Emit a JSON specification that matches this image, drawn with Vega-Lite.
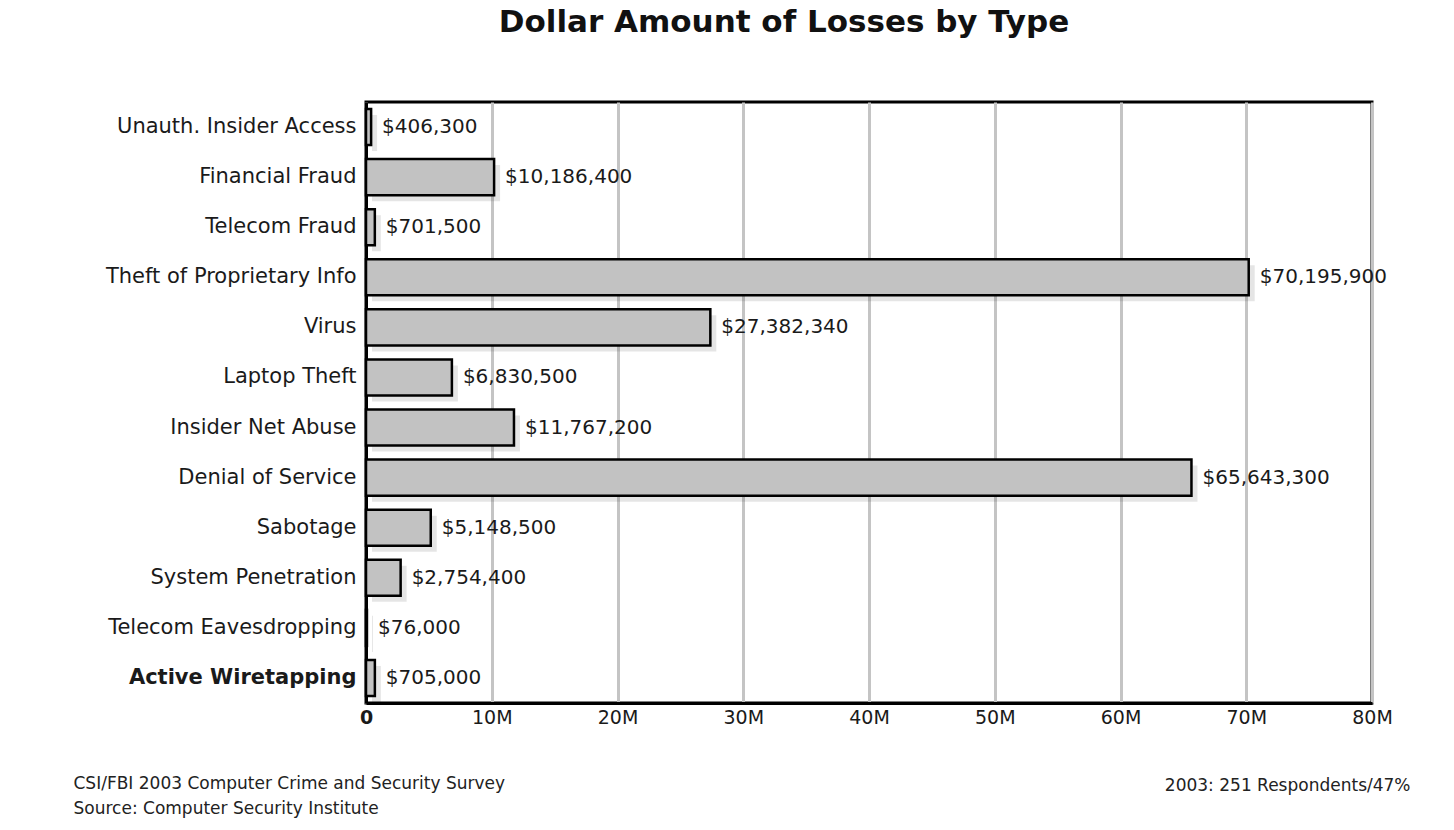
{
  "$schema": "https://vega.github.io/schema/vega-lite/v6.json",
  "autosize": {"type": "none"},
  "width": 1006,
  "height": 601,
  "padding": {"left": 366, "top": 102, "right": 82, "bottom": 127},
  "background": "white",
  "title": {
    "text": "Dollar Amount of Losses by Type",
    "font": "DejaVu Sans",
    "fontSize": 31,
    "fontWeight": "bold",
    "color": "#111111",
    "anchor": "middle",
    "dx": -85,
    "offset": 63
  },
  "data": {
    "values": [
      {"type": "Unauth. Insider Access", "loss": 406300},
      {"type": "Financial Fraud", "loss": 10186400},
      {"type": "Telecom Fraud", "loss": 701500},
      {"type": "Theft of Proprietary Info", "loss": 70195900},
      {"type": "Virus", "loss": 27382340},
      {"type": "Laptop Theft", "loss": 6830500},
      {"type": "Insider Net Abuse", "loss": 11767200},
      {"type": "Denial of Service", "loss": 65643300},
      {"type": "Sabotage", "loss": 5148500},
      {"type": "System Penetration", "loss": 2754400},
      {"type": "Telecom Eavesdropping", "loss": 76000},
      {"type": "Active Wiretapping", "loss": 705000}
    ]
  },
  "encoding": {
    "y": {
      "field": "type",
      "type": "nominal",
      "sort": null,
      "scale": {"paddingInner": 0.28, "paddingOuter": 0.14},
      "axis": {
        "title": "2003: 251 Respondents/47%",
        "titleAngle": 0,
        "titleX": 1044,
        "titleY": 683,
        "titleAlign": "right",
        "titleBaseline": "middle",
        "titleFont": "DejaVu Sans",
        "titleFontSize": 17,
        "titleFontWeight": "normal",
        "titleColor": "#222222",
        "labelFont": "DejaVu Sans",
        "labelFontSize": 21,
        "labelColor": "#1a1a1a",
        "labelPadding": 10,
        "labelLimit": 0,
        "labelFontWeight": {"condition": {"test": "datum.value === 'Active Wiretapping'", "value": "bold"}, "value": "normal"},
        "ticks": false,
        "domainColor": "black",
        "domainWidth": 3,
        "grid": false
      }
    },
    "x": {
      "field": "loss",
      "type": "quantitative",
      "scale": {"domain": [0, 80000000], "nice": false},
      "axis": {
        "values": [0, 10000000, 20000000, 30000000, 40000000, 50000000, 60000000, 70000000, 80000000],
        "labelExpr": "datum.value === 0 ? '0' : (datum.value / 1000000) + 'M'",
        "labelFont": "DejaVu Sans",
        "labelFontSize": 19,
        "labelColor": "#1a1a1a",
        "labelPadding": 5,
        "labelFlush": false,
        "labelFontWeight": {"condition": {"test": "datum.value === 0", "value": "bold"}, "value": "normal"},
        "ticks": false,
        "domainColor": "black",
        "domainWidth": 3,
        "grid": true,
        "gridColor": "#c4c4c4",
        "gridWidth": 3,
        "title": ["CSI/FBI 2003 Computer Crime and Security Survey", "Source: Computer Security Institute"],
        "titleX": -293,
        "titleY": 72,
        "titleAlign": "left",
        "titleBaseline": "top",
        "titleLineHeight": 25,
        "titleFont": "DejaVu Sans",
        "titleFontSize": 17,
        "titleFontWeight": "normal",
        "titleColor": "#222222"
      }
    }
  },
  "layer": [
    {
      "mark": {"type": "bar", "fill": "black", "opacity": 0.1, "xOffset": 6, "yOffset": 6}
    },
    {
      "mark": {"type": "bar", "fill": "#c2c2c2", "stroke": "black", "strokeWidth": 2.5}
    },
    {
      "mark": {"type": "text", "align": "left", "baseline": "middle", "dx": 11, "font": "DejaVu Sans", "fontSize": 20, "color": "#1a1a1a"},
      "encoding": {
        "text": {"field": "loss", "type": "quantitative", "format": "$,.0f"},
        "fontWeight": {"condition": {"test": "datum.type === 'Telecom Eavesdropping'", "value": "bold"}, "value": "normal"}
      }
    }
  ],
  "config": {
    "view": {"fill": "white", "stroke": "black", "strokeWidth": 3}
  }
}
